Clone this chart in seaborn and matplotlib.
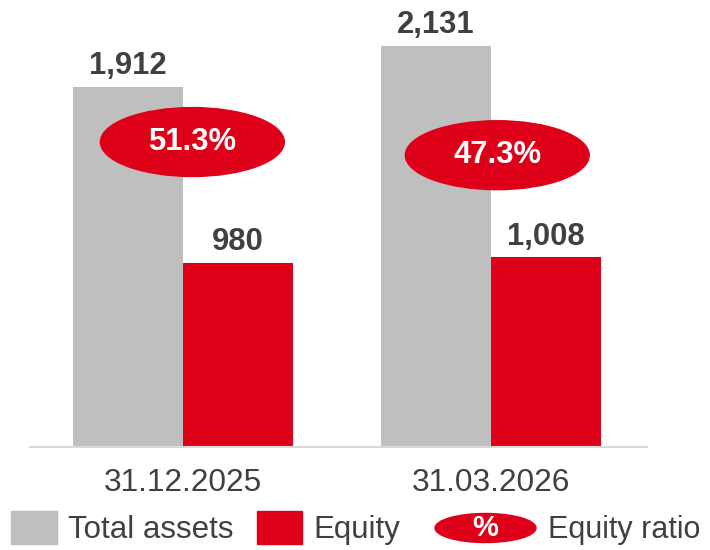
import pandas as pd
import numpy as np
from matplotlib import pyplot as plt
from matplotlib.patches import Ellipse, Rectangle
import seaborn as sb

# data
dates = ["31.12.2025", "31.03.2026"]
total_assets = [1912, 2131]
equity = [980, 1008]
equity_ratio = [51.3, 47.3]

# where the ratio badges sit (x offset from group centre, y in data units)
badge_dx = [0.03, 0.02]
badge_y = [1620, 1550]

GREY = "#BFBFBF"
RED = "#DE0019"
TXT = "#404040"

df = pd.DataFrame({
    "date": dates * 2,
    "kind": ["Total assets"] * len(dates) + ["Equity"] * len(dates),
    "value": total_assets + equity,
})

sb.set_style("white")
plt.rcParams['font.family'] = ['Liberation Sans', 'DejaVu Sans']

fig = plt.figure(figsize=(7.1, 5.5), dpi=100)
ax = fig.add_axes([30 / 710, 103 / 550, 617 / 710, 433 / 550])

sb.barplot(data=df, x="date", y="value", hue="kind",
           palette=[GREY, RED], width=0.714, saturation=1,
           linewidth=0, legend=False, ax=ax)

ax.set_xlim(-0.497, 1.506)
ax.set_ylim(0, 2300)
ax.set_xlabel("")
ax.set_ylabel("")
ax.set_yticks([])
for s in ["top", "left", "right"]:
    ax.spines[s].set_visible(False)
ax.spines["bottom"].set_color("#D9D9D9")
ax.spines["bottom"].set_linewidth(1.5)
ax.tick_params(axis="x", length=0, pad=15, labelsize=22.8, labelcolor=TXT)

for cont in ax.containers:
    ax.bar_label(cont, fmt="{:,.0f}", padding=4, fontsize=22.3,
                 fontweight="bold", color=TXT)

# equity ratio badges
for i, r in enumerate(equity_ratio):
    cx = i + badge_dx[i]
    ax.add_patch(Ellipse((cx, badge_y[i]), 0.597, 366, color=RED, zorder=5))
    ax.text(cx, badge_y[i], f"{r:.1f}%", color="white", fontsize=22.3,
            fontweight="bold", ha="center", va="center", zorder=6)

# legend drawn by hand in pixel space
lax = fig.add_axes([0, 0, 1, 1])
lax.set_xlim(0, 710)
lax.set_ylim(550, 0)
lax.axis("off")
lax.add_patch(Rectangle((11, 511), 46, 33, color=GREY))
lax.text(68, 530, "Total assets", fontsize=22.5, color=TXT, va="center")
lax.add_patch(Rectangle((257, 511), 45, 33, color=RED))
lax.text(313, 530, "Equity", fontsize=22.5, color=TXT, va="center")
lax.add_patch(Ellipse((485.5, 528), 101, 29, color=RED))
lax.text(485.5, 528, "%", fontsize=21, color="white", fontweight="bold",
         ha="center", va="center")
lax.text(548, 530, "Equity ratio", fontsize=22, color=TXT, va="center")

plt.savefig("out.png", dpi=100)
